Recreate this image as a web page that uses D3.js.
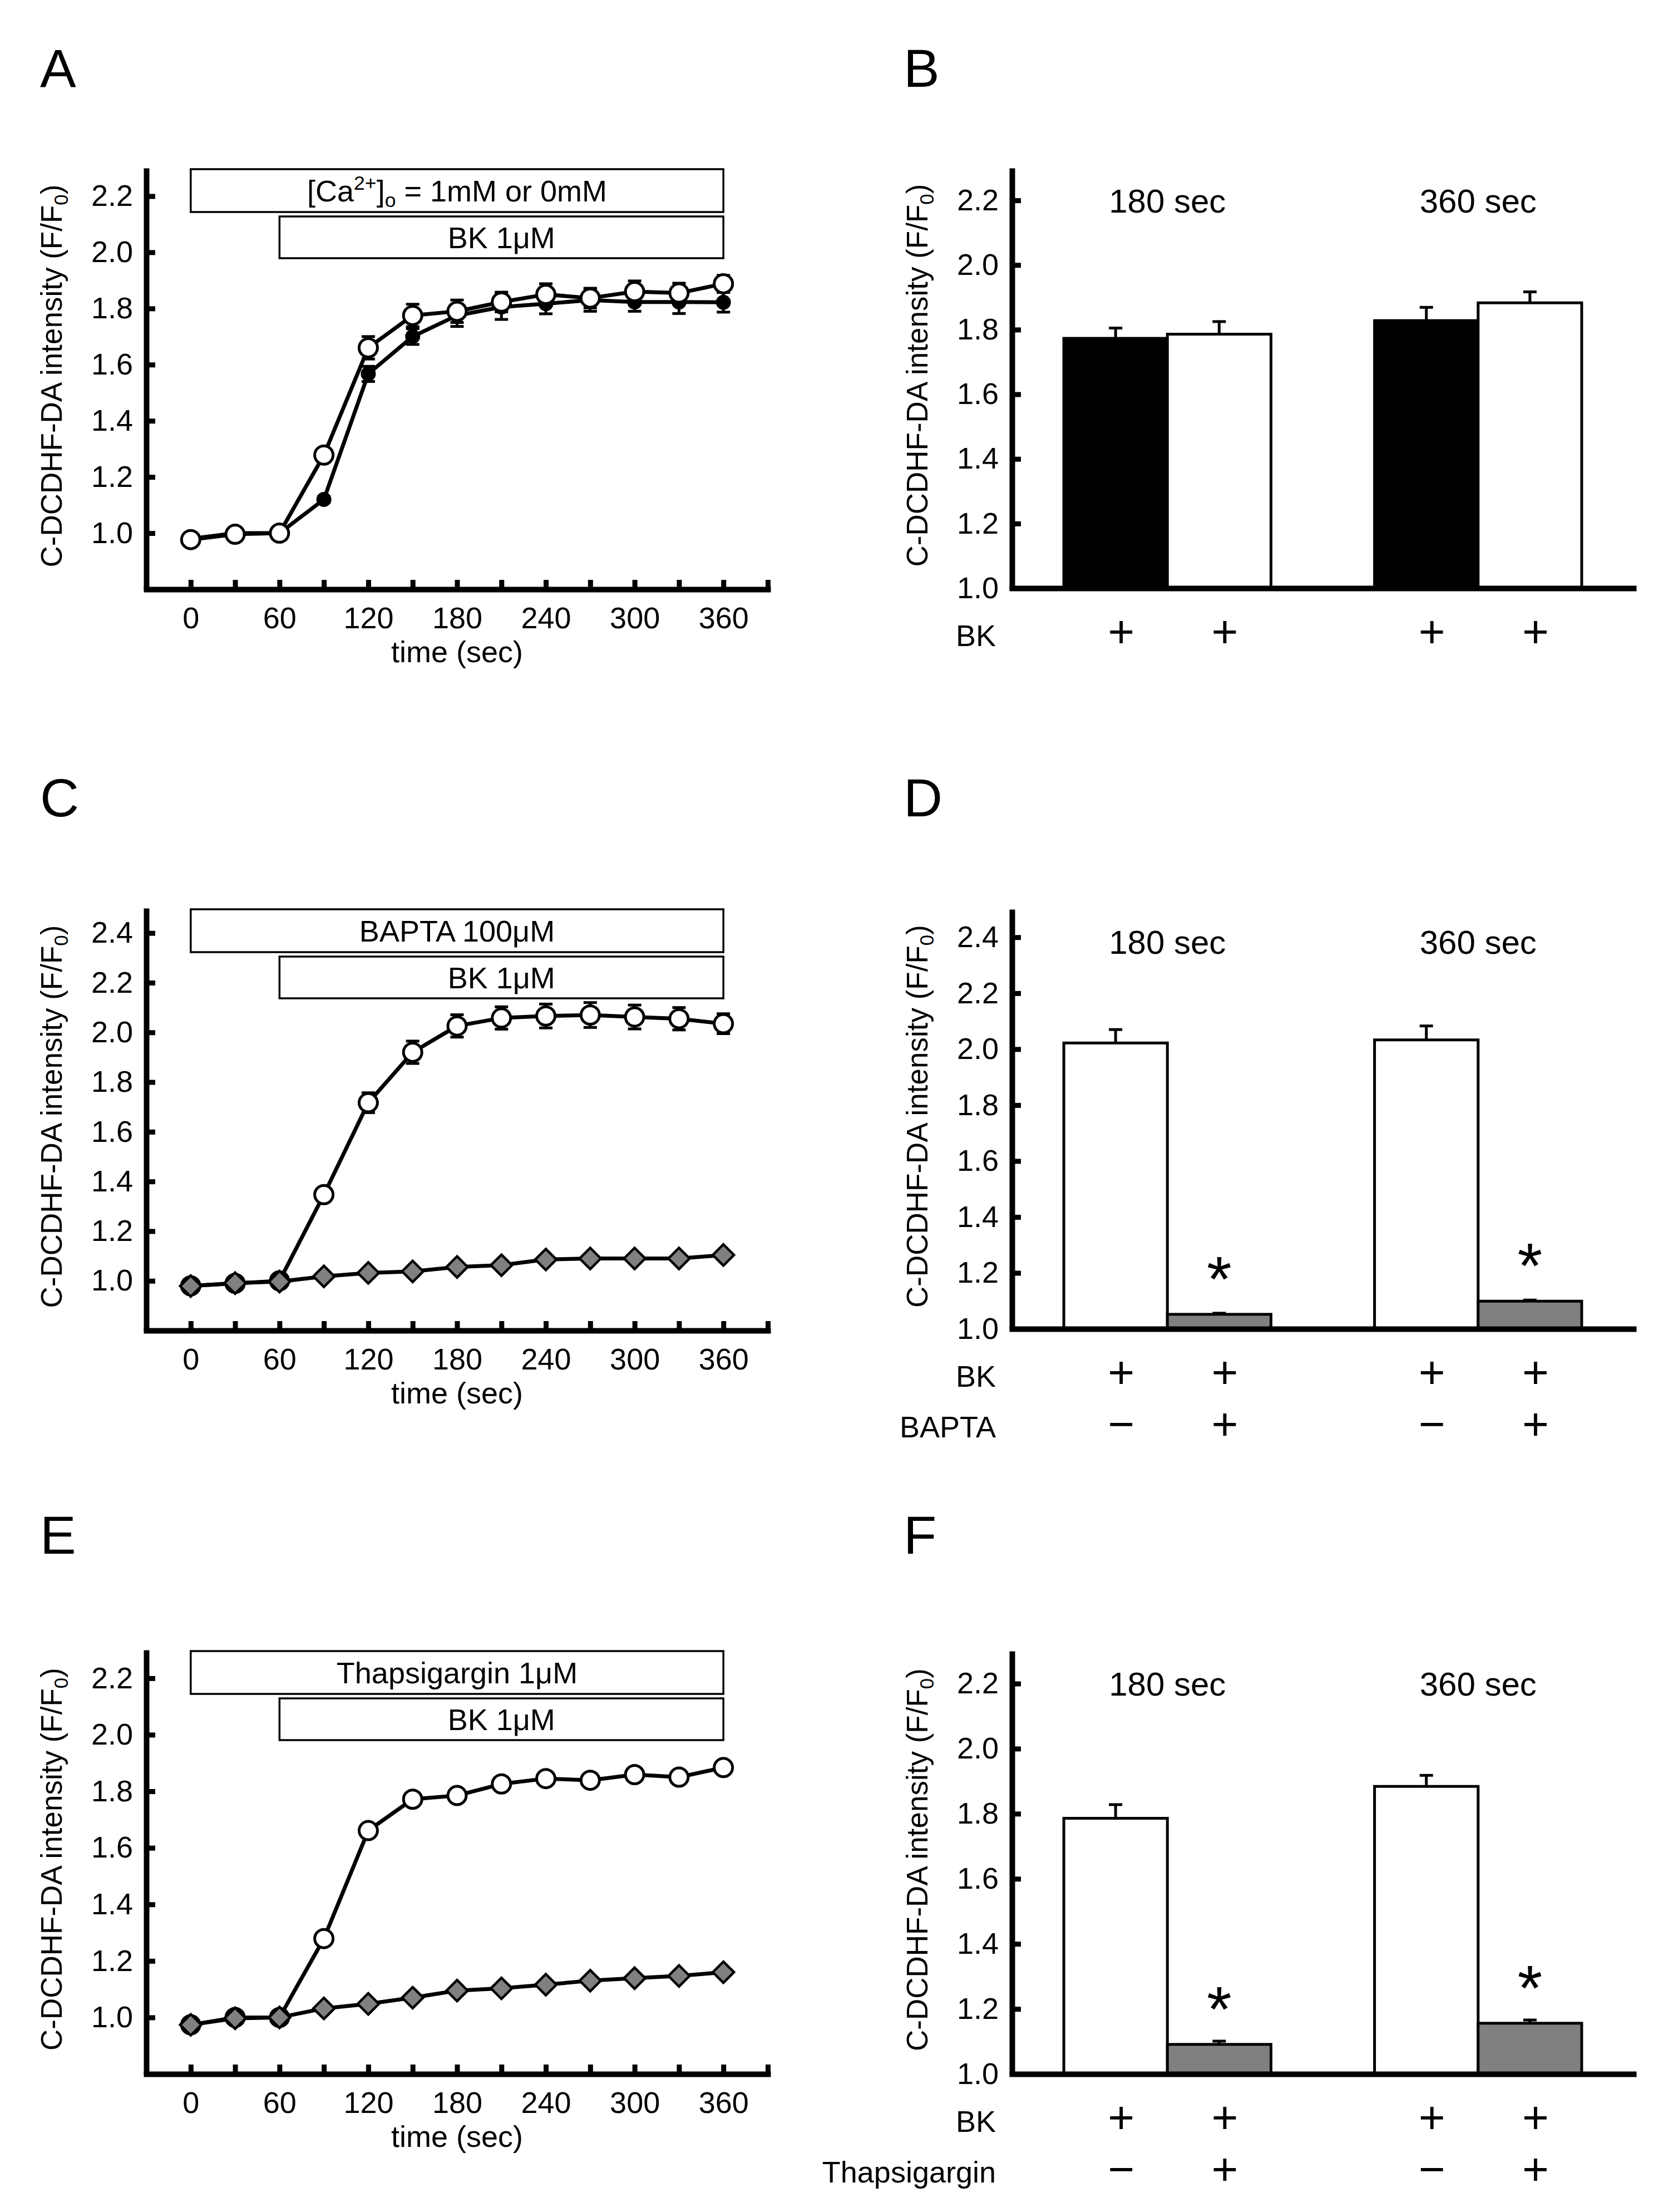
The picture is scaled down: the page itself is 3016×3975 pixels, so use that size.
<!DOCTYPE html>
<html>
<head>
<meta charset="utf-8">
<script src="https://cdn.jsdelivr.net/npm/d3@7"></script>
<style>
  body { margin: 0; background: #fff; }
  text { font-family: "Liberation Sans", Arial, Helvetica, sans-serif; fill: #000; }
</style>
</head>
<body>
<svg id="fig"></svg>
<script>
////////////////////////////////////////////////////////////////////////
// Data

// sampling times of the time courses (sec)
const times = [0, 30, 60, 90, 120, 150, 180, 210, 240, 270, 300, 330, 360];
const timeTicks = [0, 30, 60, 90, 120, 150, 180, 210, 240, 270, 300, 330, 360, 390];

// panel A : [Ca2+]o 1mM (filled) and 0mM (open)
const aFilledMean = [0.980, 1.000, 1.000, 1.120, 1.567, 1.700, 1.775, 1.805, 1.817, 1.830, 1.823, 1.823, 1.822];
const aFilledErr  = [0.010, 0.010, 0.010, 0.010, 0.027, 0.028, 0.039, 0.044, 0.036, 0.040, 0.033, 0.041, 0.035];
const aOpenMean   = [0.977, 0.996, 1.000, 1.278, 1.660, 1.775, 1.790, 1.823, 1.850, 1.837, 1.860, 1.855, 1.888];
const aOpenErr    = [0.010, 0.010, 0.010, 0.020, 0.040, 0.040, 0.040, 0.035, 0.038, 0.035, 0.038, 0.035, 0.030];

// panel C : control (open) and BAPTA (diamond)
const cOpenMean    = [0.980, 0.990, 1.000, 1.347, 1.717, 1.920, 2.026, 2.058, 2.066, 2.070, 2.062, 2.055, 2.035];
const cOpenErr     = [0.010, 0.010, 0.010, 0.025, 0.040, 0.045, 0.045, 0.045, 0.048, 0.050, 0.048, 0.045, 0.040];
const cDiamondMean = [0.979, 0.991, 0.997, 1.018, 1.032, 1.038, 1.056, 1.063, 1.086, 1.090, 1.090, 1.090, 1.104];
const cDiamondErr  = [0.010, 0.010, 0.010, 0.010, 0.010, 0.010, 0.010, 0.010, 0.010, 0.010, 0.010, 0.010, 0.010];

// panel E : control (open) and thapsigargin (diamond)
const eOpenMean    = [0.974, 1.000, 1.000, 1.279, 1.661, 1.772, 1.785, 1.826, 1.845, 1.839, 1.859, 1.850, 1.884];
const eOpenErr     = [0.010, 0.010, 0.010, 0.015, 0.015, 0.015, 0.015, 0.015, 0.015, 0.015, 0.015, 0.015, 0.015];
const eDiamondMean = [0.974, 0.997, 1.000, 1.032, 1.048, 1.070, 1.095, 1.103, 1.116, 1.130, 1.139, 1.147, 1.160];
const eDiamondErr  = [0.010, 0.010, 0.010, 0.010, 0.010, 0.010, 0.010, 0.010, 0.010, 0.010, 0.010, 0.010, 0.010];

// treatment boxes above the time courses
const caBoxLabel    = [["[Ca", ""], ["2+", "sup"], ["]", ""], ["o", "sub"], [" = 1mM or 0mM", ""]];
const baptaBoxLabel = [["BAPTA 100\u03bcM", ""]];
const tgBoxLabel    = [["Thapsigargin 1\u03bcM", ""]];
const bkBoxLabel    = [["BK 1\u03bcM", ""]];

// bar charts: slots along the x axis (one empty slot between the groups)
const barSlots   = ["b1", "b2", "gap", "b3", "b4"];
const barKeys    = ["b1", "b2", "b3", "b4"];
const groupNames = ["180 sec", "360 sec"];

const bMean = [1.773, 1.786, 1.828, 1.883];
const bErr  = [0.032, 0.039, 0.041, 0.034];
const dMean = [2.022, 1.052, 2.033, 1.099];
const dErr  = [0.048, 0.004, 0.050, 0.004];
const fMean = [1.786, 1.091, 1.884, 1.156];
const fErr  = [0.042, 0.010, 0.034, 0.010];

const bkRow     = ["+", "+", "+", "+"];
const drugRow   = ["\u2212", "+", "\u2212", "+"];
const starFlags = [false, true, false, true];

const yLabelParts = [["C-DCDHF-DA intensity (F/F", ""], ["0", "sub"], [")", ""]];

////////////////////////////////////////////////////////////////////////
// Figure set up

const W = 3016, H = 3975;
const svg = d3.select("#fig").attr("width", W).attr("height", H);
svg.append("rect").attr("width", W).attr("height", H).attr("fill", "#fff");

const FONT = "Liberation Sans, Arial, Helvetica, sans-serif";
const GRAY = "#808080";

// writes text made of plain / superscript / subscript parts
function richText(t, parts, fs) {
  let shift = 0;
  parts.forEach(function(p) {
    let target = 0;
    if (p[1] === "sup") target = -0.38 * fs;
    if (p[1] === "sub") target = 0.2 * fs;
    t.append("tspan")
      .attr("dy", target - shift)
      .attr("font-size", p[1] ? fs * 0.66 : fs)
      .text(p[0]);
    shift = target;
  });
}

function styleAxis(g) {
  g.attr("font-size", 54).attr("font-family", FONT);
  g.selectAll(".tick line").attr("stroke", "#000").attr("stroke-width", 9);
  g.selectAll(".tick text").attr("fill", "#000");
}

function yTitle(g, axisX, top, bottom) {
  const t = g.append("text")
    .attr("transform", "translate(" + (axisX - 152) + "," + ((top + bottom) / 2 - 5) + ") rotate(-90)")
    .attr("text-anchor", "middle");
  richText(t, yLabelParts, 53);
}

function panelLetter(letter, x, y) {
  svg.append("text").attr("x", x).attr("y", y)
    .attr("font-size", 97).text(letter);
}

////////////////////////////////////////////////////////////////////////
// Time course panels (A, C, E)

function timePanel(cfg) {
  const g = svg.append("g");
  const x = d3.scaleLinear().domain([-30, 390]).range([263, 1380]);
  const y = d3.scaleLinear().domain(cfg.yDomain).range([cfg.bottom, cfg.top]);

  // treatment boxes
  cfg.boxes.forEach(function(b, i) {
    const y0 = cfg.top + (i === 0 ? 2 : 87);
    const h = i === 0 ? 77 : 75;
    g.append("rect")
      .attr("x", x(b.from)).attr("y", y0)
      .attr("width", x(b.to) - x(b.from)).attr("height", h)
      .attr("fill", "#fff").attr("stroke", "#000").attr("stroke-width", 3.5);
    const t = g.append("text")
      .attr("x", (x(b.from) + x(b.to)) / 2)
      .attr("y", y0 + h / 2 + 19)
      .attr("text-anchor", "middle");
    richText(t, b.label, 54);
  });

  // lines
  const line = d3.line()
    .x(function(d, i) { return x(times[i]); })
    .y(function(d) { return y(d); });

  cfg.series.forEach(function(s) {
    g.append("path").datum(s.mean)
      .attr("d", line)
      .attr("fill", "none").attr("stroke", "#000")
      .attr("stroke-width", 7).attr("stroke-linejoin", "round");
  });

  // error bars
  cfg.series.forEach(function(s) {
    const eb = g.append("g").attr("stroke", "#000").attr("stroke-width", 5);
    s.mean.forEach(function(m, i) {
      const cx = x(times[i]);
      eb.append("line").attr("x1", cx).attr("x2", cx)
        .attr("y1", y(m - s.err[i])).attr("y2", y(m + s.err[i]));
      [m - s.err[i], m + s.err[i]].forEach(function(v) {
        eb.append("line").attr("x1", cx - 12).attr("x2", cx + 12)
          .attr("y1", y(v)).attr("y2", y(v));
      });
    });
  });

  // markers
  cfg.series.forEach(function(s) {
    const pts = g.append("g").selectAll("g")
      .data(s.mean).enter().append("g")
      .attr("transform", function(d, i) { return "translate(" + x(times[i]) + "," + y(d) + ")"; });
    if (s.marker === "open") {
      pts.append("circle").attr("r", 16.5)
        .attr("fill", "#fff").attr("stroke", "#000").attr("stroke-width", 5);
    } else if (s.marker === "filled") {
      pts.append("circle").attr("r", 13.5).attr("fill", "#000");
    } else {
      pts.append("path").attr("d", "M0,-19L19,0L0,19L-19,0Z")
        .attr("fill", GRAY).attr("stroke", "#000").attr("stroke-width", 4.5)
        .attr("stroke-linejoin", "miter");
    }
  });

  // axes
  const gx = g.append("g").attr("transform", "translate(0," + cfg.bottom + ")")
    .call(d3.axisBottom(x).tickValues(timeTicks)
      .tickFormat(function(d) { return (d % 60 === 0 && d <= 360) ? d : ""; })
      .tickSizeInner(-17).tickSizeOuter(0).tickPadding(32));
  styleAxis(gx);
  gx.select(".domain").attr("stroke-width", 10).attr("stroke-linecap", "square");

  const gy = g.append("g").attr("transform", "translate(263,0)")
    .call(d3.axisLeft(y).tickValues(cfg.yTicks).tickFormat(d3.format(".1f"))
      .tickSizeInner(-16).tickSizeOuter(0).tickPadding(24));
  styleAxis(gy);
  gy.select(".domain").attr("stroke-width", 10);

  g.append("text").attr("x", x(180)).attr("y", cfg.bottom + 131)
    .attr("text-anchor", "middle").attr("font-size", 54).text("time (sec)");

  yTitle(g, 263, cfg.top, cfg.bottom);
}

////////////////////////////////////////////////////////////////////////
// Bar panels (B, D, F)

function barPanel(cfg) {
  const g = svg.append("g");
  const x = d3.scaleBand().domain(barSlots).range([1819, 2936])
    .paddingInner(0).paddingOuter(0.5);
  const y = d3.scaleLinear().domain(cfg.yDomain).range([cfg.bottom, cfg.top]);
  const bw = x.bandwidth();

  barKeys.forEach(function(k, i) {
    const cx = x(k) + bw / 2;
    const m = cfg.mean[i], e = cfg.err[i];
    // error bar (upper half only)
    g.append("line").attr("x1", cx).attr("x2", cx)
      .attr("y1", y(m)).attr("y2", y(m + e))
      .attr("stroke", "#000").attr("stroke-width", 5);
    g.append("line").attr("x1", cx - 12).attr("x2", cx + 12)
      .attr("y1", y(m + e)).attr("y2", y(m + e))
      .attr("stroke", "#000").attr("stroke-width", 5);
    g.append("rect")
      .attr("x", x(k)).attr("y", y(m))
      .attr("width", bw).attr("height", y(cfg.yDomain[0]) - y(m))
      .attr("fill", cfg.fills[i]).attr("stroke", "#000").attr("stroke-width", 5);
    if (cfg.stars && cfg.stars[i]) {
      g.append("text").attr("x", cx).attr("y", y(m) - 90 + 0.575 * 115)
        .attr("text-anchor", "middle").attr("font-size", 115).text("*");
    }
  });

  // group names
  g.append("text").attr("x", x("b2")).attr("y", cfg.top + 80)
    .attr("text-anchor", "middle").attr("font-size", 60).text(groupNames[0]);
  g.append("text").attr("x", x("b4")).attr("y", cfg.top + 80)
    .attr("text-anchor", "middle").attr("font-size", 60).text(groupNames[1]);

  // treatment rows under the axis
  cfg.rows.forEach(function(r, j) {
    g.append("text").attr("x", 1790).attr("y", cfg.bottom + 104 + j * 91)
      .attr("text-anchor", "end").attr("font-size", 54).text(r.name);
    barKeys.forEach(function(k, i) {
      g.append("text")
        .attr("x", x(k) + bw / 2 + 10)
        .attr("y", cfg.bottom + 77 + j * 93 + 0.349 * 82)
        .attr("text-anchor", "middle")
        .attr("font-size", 82).text(r.signs[i]);
    });
  });

  // axes
  const gx = g.append("g").attr("transform", "translate(0," + cfg.bottom + ")")
    .call(d3.axisBottom(x).tickValues([]).tickSizeOuter(0));
  gx.select(".domain").attr("stroke-width", 10).attr("stroke-linecap", "square");

  const gy = g.append("g").attr("transform", "translate(1819,0)")
    .call(d3.axisLeft(y).tickValues(cfg.yTicks).tickFormat(d3.format(".1f"))
      .tickSizeInner(-16).tickSizeOuter(0).tickPadding(24));
  styleAxis(gy);
  gy.select(".domain").attr("stroke-width", 10);

  yTitle(g, 1819, cfg.top, cfg.bottom);
}

////////////////////////////////////////////////////////////////////////
// Draw the six panels

const ticks23 = [1.0, 1.2, 1.4, 1.6, 1.8, 2.0, 2.2];
const ticks25 = [1.0, 1.2, 1.4, 1.6, 1.8, 2.0, 2.2, 2.4];

timePanel({
  top: 302, bottom: 1059, yDomain: [0.8, 2.3], yTicks: ticks23,
  boxes: [{ from: 0, to: 360, label: caBoxLabel }, { from: 60, to: 360, label: bkBoxLabel }],
  series: [
    { mean: aFilledMean, err: aFilledErr, marker: "filled" },
    { mean: aOpenMean, err: aOpenErr, marker: "open" }
  ]
});

timePanel({
  top: 1632, bottom: 2391, yDomain: [0.8, 2.5], yTicks: ticks25,
  boxes: [{ from: 0, to: 360, label: baptaBoxLabel }, { from: 60, to: 360, label: bkBoxLabel }],
  series: [
    { mean: cOpenMean, err: cOpenErr, marker: "open" },
    { mean: cDiamondMean, err: cDiamondErr, marker: "diamond" }
  ]
});

timePanel({
  top: 2965, bottom: 3727, yDomain: [0.8, 2.3], yTicks: ticks23,
  boxes: [{ from: 0, to: 360, label: tgBoxLabel }, { from: 60, to: 360, label: bkBoxLabel }],
  series: [
    { mean: eOpenMean, err: eOpenErr, marker: "open" },
    { mean: eDiamondMean, err: eDiamondErr, marker: "diamond" }
  ]
});

barPanel({
  top: 302, bottom: 1057, yDomain: [1.0, 2.3], yTicks: ticks23,
  mean: bMean, err: bErr, fills: ["#000", "#fff", "#000", "#fff"],
  rows: [{ name: "BK", signs: bkRow }]
});

barPanel({
  top: 1634, bottom: 2388, yDomain: [1.0, 2.5], yTicks: ticks25,
  mean: dMean, err: dErr, fills: ["#fff", GRAY, "#fff", GRAY], stars: starFlags,
  rows: [{ name: "BK", signs: bkRow }, { name: "BAPTA", signs: drugRow }]
});

barPanel({
  top: 2967, bottom: 3727, yDomain: [1.0, 2.3], yTicks: ticks23,
  mean: fMean, err: fErr, fills: ["#fff", GRAY, "#fff", GRAY], stars: starFlags,
  rows: [{ name: "BK", signs: bkRow }, { name: "Thapsigargin", signs: drugRow }]
});

panelLetter("A", 72, 156);
panelLetter("B", 1624, 156);
panelLetter("C", 72, 1467);
panelLetter("D", 1624, 1467);
panelLetter("E", 72, 2792);
panelLetter("F", 1624, 2792);
</script>
</body>
</html>
